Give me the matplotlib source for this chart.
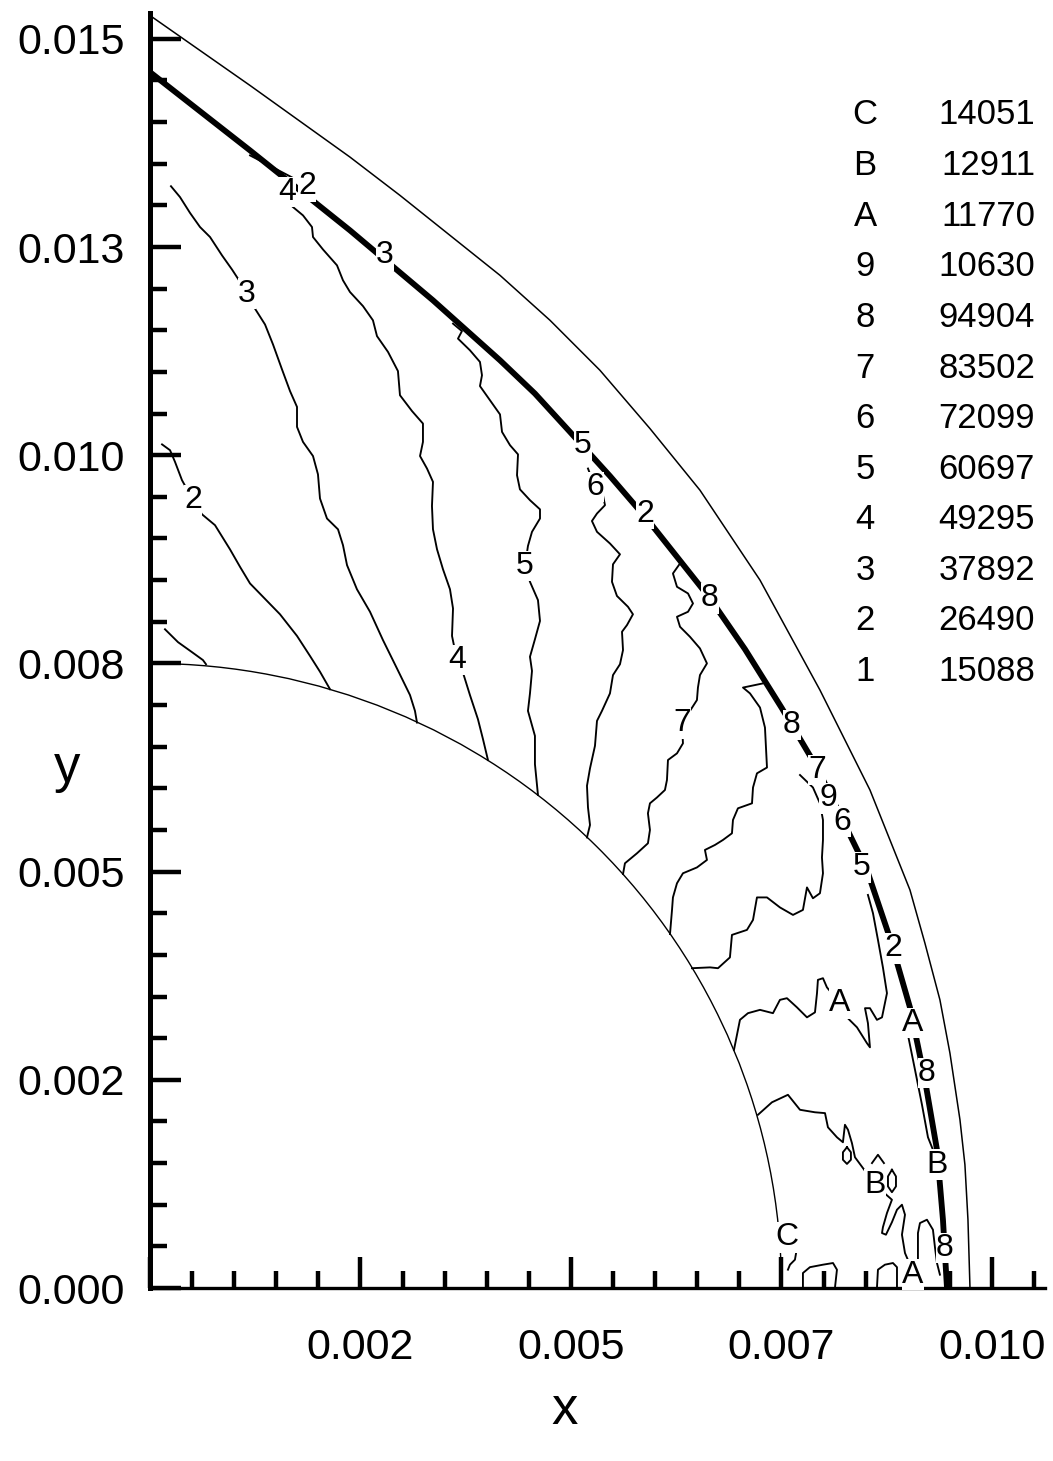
import numpy as np
import matplotlib
matplotlib.use("Agg")
import matplotlib.pyplot as plt
from matplotlib import patches

plt.rcParams["font.family"] = ["Liberation Sans", "DejaVu Sans"]

# ==========================================
# Geometry (mm)
# ==========================================

MM = 1e-3

body_radius = 7.5

outer_x = [0.0, 1.188, 2.375, 2.969, 4.157, 4.751, 5.344, 5.938, 6.532,
           7.245, 7.957, 8.551, 9.026, 9.204, 9.382, 9.501, 9.620, 9.679,
           9.715, 9.739]
outer_y = [15.28, 14.44, 13.58, 13.12, 12.16, 11.62, 11.02, 10.32, 9.58,
           8.50, 7.18, 5.98, 4.78, 4.14, 3.46, 2.82, 2.02, 1.48,
           0.82, 0.0]

shock_x = [0.0, 1.188, 2.375, 3.361, 4.157, 4.572, 4.988, 5.463, 5.914,
           6.651, 7.067, 7.506, 7.922, 8.515, 8.789, 9.026, 9.204, 9.347,
           9.418, 9.466]
shock_y = [14.60, 13.66, 12.70, 11.86, 11.14, 10.74, 10.28, 9.75, 9.22,
           8.28, 7.67, 6.96, 6.25, 5.02, 4.20, 3.37, 2.50, 1.66,
           0.82, 0.0]

# ==========================================
# Contour lines (mm)
# ==========================================

c1_x = [0.178, 0.333, 0.499, 0.629, 0.665]
c1_y = [7.91, 7.755, 7.635, 7.54, 7.49]

c2_x = [0.143, 0.238, 0.297, 0.380, 0.511, 0.618, 0.772, 0.950, 1.069,
        1.188, 1.390, 1.544, 1.746, 1.900, 2.019, 2.138]
c2_y = [10.13, 10.06, 9.92, 9.70, 9.46, 9.29, 9.16, 8.87, 8.66,
        8.46, 8.25, 8.09, 7.83, 7.59, 7.40, 7.19]

c3_x = [0.249, 0.356, 0.475, 0.594, 0.713, 0.855, 0.974, 1.045, 1.152,
        1.247, 1.366, 1.461, 1.568, 1.663, 1.746, 1.746, 1.817, 1.936,
        1.995, 2.019, 2.102, 2.233, 2.292, 2.340, 2.458, 2.613, 2.767,
        2.933, 3.088, 3.147, 3.171]
c3_y = [13.23, 13.10, 12.91, 12.74, 12.62, 12.40, 12.23, 12.12, 11.94,
        11.76, 11.57, 11.33, 11.03, 10.77, 10.58, 10.34, 10.16, 9.99,
        9.77, 9.48, 9.24, 9.11, 8.92, 8.68, 8.39, 8.12, 7.78,
        7.44, 7.12, 6.93, 6.79]

c4_x = [1.698, 1.817, 1.924, 1.936, 2.055, 2.221, 2.292, 2.375, 2.530,
        2.648, 2.696, 2.827, 2.945, 2.969, 3.112, 3.242, 3.242, 3.207,
        3.290, 3.361, 3.349, 3.361, 3.409, 3.480, 3.563, 3.599, 3.587,
        3.646, 3.717, 3.800, 3.895, 3.955, 4.014]
c4_y = [12.98, 12.88, 12.74, 12.62, 12.47, 12.28, 12.10, 11.96, 11.79,
        11.62, 11.43, 11.24, 11.01, 10.72, 10.53, 10.38, 10.16, 9.99,
        9.84, 9.68, 9.39, 9.11, 8.87, 8.63, 8.39, 8.16, 7.83,
        7.54, 7.39, 7.12, 6.83, 6.59, 6.34]

c5_x = [3.599, 3.705, 3.658, 3.800, 3.919, 3.943, 3.919, 4.038, 4.157,
        4.181, 4.276, 4.371, 4.359, 4.394, 4.513, 4.632, 4.632, 4.537,
        4.489, 4.454, 4.513, 4.608, 4.632, 4.572, 4.513, 4.537, 4.513,
        4.489, 4.572, 4.572, 4.608]
c5_y = [11.58, 11.49, 11.40, 11.26, 11.12, 10.96, 10.83, 10.66, 10.49,
        10.28, 10.12, 10.01, 9.76, 9.59, 9.46, 9.35, 9.24, 9.08,
        8.91, 8.67, 8.48, 8.26, 8.01, 7.79, 7.58, 7.41, 7.14,
        6.93, 6.63, 6.29, 5.92]

c6_x = [5.202, 5.285, 5.380, 5.404, 5.309, 5.249, 5.309, 5.463, 5.582,
        5.499, 5.487, 5.546, 5.677, 5.736, 5.665, 5.606, 5.618, 5.582,
        5.499, 5.463, 5.368, 5.309, 5.285, 5.226, 5.190, 5.202, 5.226,
        5.190]
c6_y = [9.84, 9.62, 9.52, 9.40, 9.30, 9.21, 9.08, 8.94, 8.81,
        8.69, 8.48, 8.31, 8.18, 8.09, 7.96, 7.88, 7.66, 7.49,
        7.36, 7.14, 6.93, 6.81, 6.51, 6.24, 6.03, 5.77, 5.56,
        5.41]

c7_x = [6.295, 6.211, 6.259, 6.390, 6.449, 6.390, 6.259, 6.295, 6.413,
        6.532, 6.615, 6.532, 6.508, 6.496, 6.318, 6.330, 6.259, 6.152,
        6.140, 6.116, 6.021, 5.938, 5.914, 5.938, 5.914, 5.784, 5.641,
        5.618]
c7_y = [8.70, 8.58, 8.42, 8.34, 8.22, 8.12, 8.06, 7.94, 7.82,
        7.68, 7.50, 7.36, 7.21, 7.06, 6.78, 6.54, 6.42, 6.34,
        6.10, 5.98, 5.89, 5.82, 5.70, 5.50, 5.34, 5.22, 5.10,
        4.97]

c8_x = [7.280, 7.043, 7.126, 7.245, 7.304, 7.328, 7.209, 7.162, 7.150,
        6.983, 6.924, 6.912, 6.805, 6.710, 6.591, 6.615, 6.496, 6.330,
        6.259, 6.211, 6.200, 6.176]
c8_y = [7.26, 7.21, 7.14, 6.97, 6.73, 6.25, 6.18, 6.01, 5.82,
        5.76, 5.62, 5.46, 5.38, 5.32, 5.26, 5.14, 5.05, 4.98,
        4.86, 4.69, 4.54, 4.25]

c9_x = [7.720, 7.874, 7.957, 7.993, 7.993, 7.981, 7.993, 7.957, 7.874,
        7.803, 7.755, 7.637, 7.482, 7.328, 7.209, 7.162, 7.090, 6.912,
        6.888, 6.746, 6.651, 6.437]
c9_y = [6.16, 6.01, 5.82, 5.62, 5.38, 5.17, 4.98, 4.74, 4.68,
        4.81, 4.54, 4.48, 4.57, 4.69, 4.69, 4.42, 4.30, 4.24,
        3.97, 3.84, 3.85, 3.84]

cA_x = [6.936, 7.007, 7.102, 7.245, 7.399, 7.482, 7.565, 7.684, 7.803,
        7.898, 7.922, 7.933, 7.993, 8.040, 8.195, 8.278, 8.397, 8.515,
        8.551, 8.527, 8.492, 8.551, 8.634, 8.694, 8.753, 8.705, 8.646,
        8.587, 8.527]
cA_y = [2.86, 3.22, 3.30, 3.34, 3.30, 3.46, 3.48, 3.37, 3.25,
        3.31, 3.54, 3.70, 3.72, 3.61, 3.42, 3.25, 3.13, 2.94,
        2.89, 3.18, 3.36, 3.36, 3.22, 3.25, 3.54, 3.85, 4.18,
        4.50, 4.72]

cB_x = [7.221, 7.387, 7.577, 7.720, 7.898, 8.017, 8.052, 8.159, 8.230,
        8.254, 8.290, 8.337, 8.373, 8.468, 8.610, 8.812, 8.753, 8.705,
        8.694, 8.741, 8.812, 8.872, 8.931, 8.967, 8.931, 8.967, 9.026,
        9.062]
cB_y = [2.08, 2.23, 2.32, 2.14, 2.11, 2.10, 1.93, 1.81, 1.75,
        1.96, 1.90, 1.74, 1.57, 1.44, 1.24, 1.06, 0.90, 0.73,
        0.66, 0.64, 0.79, 0.94, 1.00, 0.88, 0.64, 0.42, 0.28,
        0.16]

cC_x = [7.601, 7.684, 7.660, 7.601, 7.577]
cC_y = [0.72, 0.48, 0.34, 0.28, 0.22]

# small pieces near the shock and the stagnation line
near_top_x = [1.188, 1.698]
near_top_y = [13.60, 13.33]

near_shock_x = [9.002, 9.086, 9.169, 9.240, 9.299]
near_shock_y = [3.04, 2.62, 2.20, 1.81, 1.66]

low8_x = [9.121, 9.121, 9.145, 9.228, 9.299, 9.323, 9.347, 9.382]
low8_y = [0.34, 0.66, 0.78, 0.82, 0.70, 0.49, 0.30, 0.16]

arch1_x = [7.755, 7.755, 7.838, 7.993, 8.112, 8.159, 8.135]
arch1_y = [0.0, 0.18, 0.25, 0.28, 0.30, 0.22, 0.0]

arch2_x = [8.634, 8.646, 8.729, 8.824, 8.872, 8.872]
arch2_y = [0.0, 0.22, 0.28, 0.30, 0.25, 0.0]

loop1_x = [8.278, 8.325, 8.325, 8.278, 8.230, 8.230, 8.278]
loop1_y = [1.69, 1.63, 1.54, 1.49, 1.54, 1.63, 1.69]

loop2_x = [8.812, 8.860, 8.860, 8.812, 8.765, 8.765, 8.812]
loop2_y = [1.42, 1.34, 1.22, 1.15, 1.22, 1.34, 1.42]

cap_x = [8.575, 8.646, 8.717]
cap_y = [1.50, 1.60, 1.50]

# ==========================================
# Contour labels (mm)
# ==========================================

label_text = ["2", "3", "4", "5", "6", "7", "A", "B", "C",
              "4", "2", "3", "5", "2", "8", "8", "7", "9", "6",
              "5", "2", "A", "8", "B", "8", "A"]
label_x = [0.511, 1.152, 3.646, 4.454, 5.285, 6.318, 8.195, 8.610, 7.565,
           1.627, 1.865, 2.791, 5.143, 5.879, 6.651, 7.625, 7.925, 8.060, 8.219,
           8.456, 8.824, 9.062, 9.228, 9.347, 9.442, 9.062]
label_y = [9.46, 11.94, 7.54, 8.67, 9.62, 6.78, 3.42, 1.24, 0.61,
           13.16, 13.23, 12.40, 10.12, 9.30, 8.28, 6.76, 6.22, 5.88, 5.60,
           5.05, 4.08, 3.18, 2.58, 1.48, 0.48, 0.16]

# ==========================================
# Level table
# ==========================================

level_keys = ["C", "B", "A", "9", "8", "7", "6", "5", "4", "3", "2", "1"]
level_values = ["14051", "12911", "11770", "10630", "94904", "83502",
                "72099", "60697", "49295", "37892", "26490", "15088"]

# ==========================================
# Plot
# ==========================================

fig = plt.figure(figsize=(10.53, 14.61), dpi=100)
ax = fig.add_axes([0.14245, 0.11841, 0.84995, 0.87269])

ax.set_xlim(0, 0.01063)
ax.set_ylim(0, 0.01531)

ax.add_patch(patches.Arc((0, 0), 2 * body_radius * MM, 2 * body_radius * MM,
                         theta1=0, theta2=90, color="black", lw=1.0))

ax.plot(np.array(outer_x) * MM, np.array(outer_y) * MM, color="black", lw=1.1)
ax.plot(np.array(shock_x) * MM, np.array(shock_y) * MM, color="black", lw=4.2,
        solid_capstyle="butt", solid_joinstyle="round")

contours = [
    (c1_x, c1_y), (c2_x, c2_y), (c3_x, c3_y), (c4_x, c4_y), (c5_x, c5_y),
    (c6_x, c6_y), (c7_x, c7_y), (c8_x, c8_y), (c9_x, c9_y), (cA_x, cA_y),
    (cB_x, cB_y), (cC_x, cC_y), (near_top_x, near_top_y),
    (near_shock_x, near_shock_y), (low8_x, low8_y), (arch1_x, arch1_y),
    (arch2_x, arch2_y), (loop1_x, loop1_y), (loop2_x, loop2_y),
    (cap_x, cap_y),
]

for cx, cy in contours:
    ax.plot(np.array(cx) * MM, np.array(cy) * MM, color="black", lw=1.35)

for s, lx, ly in zip(label_text, label_x, label_y):
    ax.text(lx * MM, ly * MM, s, ha="center", va="center", fontsize=23,
            bbox=dict(facecolor="white", edgecolor="none", pad=0.2))

# ==========================================
# Axes
# ==========================================

for side in ["top", "right"]:
    ax.spines[side].set_visible(False)
ax.spines["left"].set_linewidth(3.6)
ax.spines["bottom"].set_linewidth(2.4)

ax.set_xticks([0, 0.0025, 0.005, 0.0075, 0.010])
ax.set_xticklabels(["", "0.002", "0.005", "0.007", "0.010"])
ax.set_yticks([0, 0.0025, 0.005, 0.0075, 0.010, 0.0125, 0.015])
ax.set_yticklabels(["0.000", "0.002", "0.005", "0.008", "0.010", "0.013", "0.015"])
ax.set_xticks(np.arange(0, 0.0106, 0.0005), minor=True)
ax.set_yticks(np.arange(0, 0.0151, 0.0005), minor=True)

ax.tick_params(which="major", direction="in", length=22, width=3.2, labelsize=31)
ax.tick_params(which="minor", direction="in", length=12, width=3.2)
ax.tick_params(axis="x", which="major", pad=29)
ax.tick_params(axis="y", which="major", pad=18)

fig.text(565 / 1053, 1 - 1410 / 1461, "x", ha="center", va="center", fontsize=38)
fig.text(67 / 1053, 1 - 768 / 1461, "y", ha="center", va="center", fontsize=38)

# level table in the upper right corner
for i, (k, v) in enumerate(zip(level_keys, level_values)):
    yy = 1 - (115 + i * 50.6) / 1461
    fig.text(865 / 1053, yy, k, ha="center", va="center", fontsize=25)
    fig.text(1035 / 1053, yy, v, ha="right", va="center", fontsize=25)

fig.savefig("out.png", dpi=100, facecolor="white")
